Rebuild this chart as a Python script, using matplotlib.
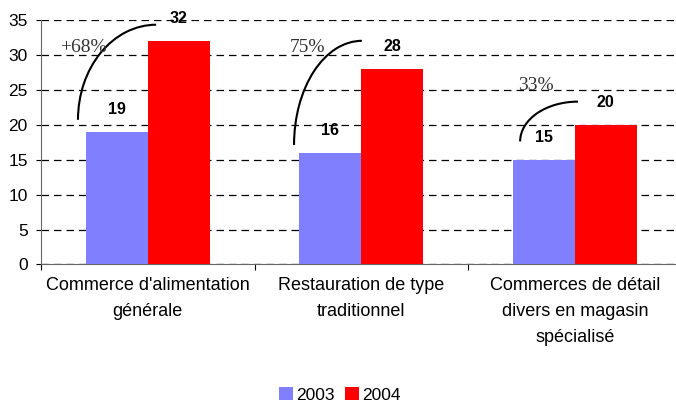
import matplotlib.pyplot as plt
import numpy as np
from matplotlib.patches import Arc

plt.rcParams['font.family'] = ['Liberation Sans', 'DejaVu Sans']

categories = ["Commerce d'alimentation\ngénérale",
              "Restauration de type\ntraditionnel",
              "Commerces de détail\ndivers en magasin\nspécialisé"]
years = ["2003", "2004"]
v2003 = [19, 16, 15]
v2004 = [32, 28, 20]
growth = ["+68%", "75%", "33%"]

# arc annotations (x start, y start, x end, y end) and percent label spots
arcs = [(-0.327, 20.7, 0.039, 34.3),
        (0.685, 17.1, 1.003, 32.0),
        (1.744, 17.6, 2.015, 23.3)]
pct_pos = [(-0.30, 31.0), (0.75, 31.0), (1.82, 25.6)]

fig = plt.figure(figsize=(6.76, 4.05), dpi=100)
ax = fig.add_axes([0.0607, 0.347, 0.9475, 0.604])

x = np.arange(len(categories))
w = 0.29
b1 = ax.bar(x - w / 2, v2003, w, color='#8080FF', label=years[0], zorder=3)
b2 = ax.bar(x + w / 2, v2004, w, color='#FF0000', label=years[1], zorder=3)

for bars in (b1, b2):
    for r in bars:
        ax.annotate(f"{r.get_height():.0f}", (r.get_x() + r.get_width() / 2, r.get_height()),
                    xytext=(0, 16), textcoords='offset points', ha='center', va='center',
                    fontsize=11.5, fontweight='bold', zorder=5)

for (xs, ys, xe, ye), txt, (px, py) in zip(arcs, growth, pct_pos):
    ax.add_patch(Arc((xe, ys), 2 * (xe - xs), 2 * (ye - ys), theta1=90, theta2=180,
                     color='black', lw=1.5, zorder=4))
    ax.text(px, py, txt, family=['Liberation Serif'], fontsize=14, color='#333333',
            ha='center', va='center', zorder=5)

ax.set_xlim(-0.5, 2.5)
ax.set_ylim(0, 35)
ax.set_yticks(range(0, 36, 5))
ax.set_xticks([-0.5, 0.5, 1.5, 2.5], minor=False)
ax.set_xticklabels([])
ax.set_xticks(x, minor=True)
ax.set_xticklabels(categories, minor=True, fontsize=13, linespacing=1.68, va='top')
ax.tick_params(axis='x', which='minor', length=0, pad=9)
ax.tick_params(axis='x', which='major', length=4, direction='out')
ax.tick_params(axis='y', length=3.5, labelsize=12.5, pad=6)

ax.yaxis.grid(True, color='black', linestyle=(0, (6, 4)), lw=0.9, zorder=1)
ax.spines['right'].set_visible(False)
ax.spines['top'].set_visible(False)
ax.spines['left'].set_color('#666666')
ax.spines['left'].set_linestyle((0, (2, 1)))
ax.spines['bottom'].set_color('#666666')
ax.spines['bottom'].set_linestyle((0, (3, 1)))

ax.legend(loc='center', bbox_to_anchor=(340 / 676, 10 / 405), bbox_transform=fig.transFigure,
          ncol=2, frameon=False, fontsize=12.5, handlelength=0.8, handleheight=0.8,
          handletextpad=0.2, columnspacing=0.6, borderaxespad=0)

fig.savefig('out.png', dpi=100)
